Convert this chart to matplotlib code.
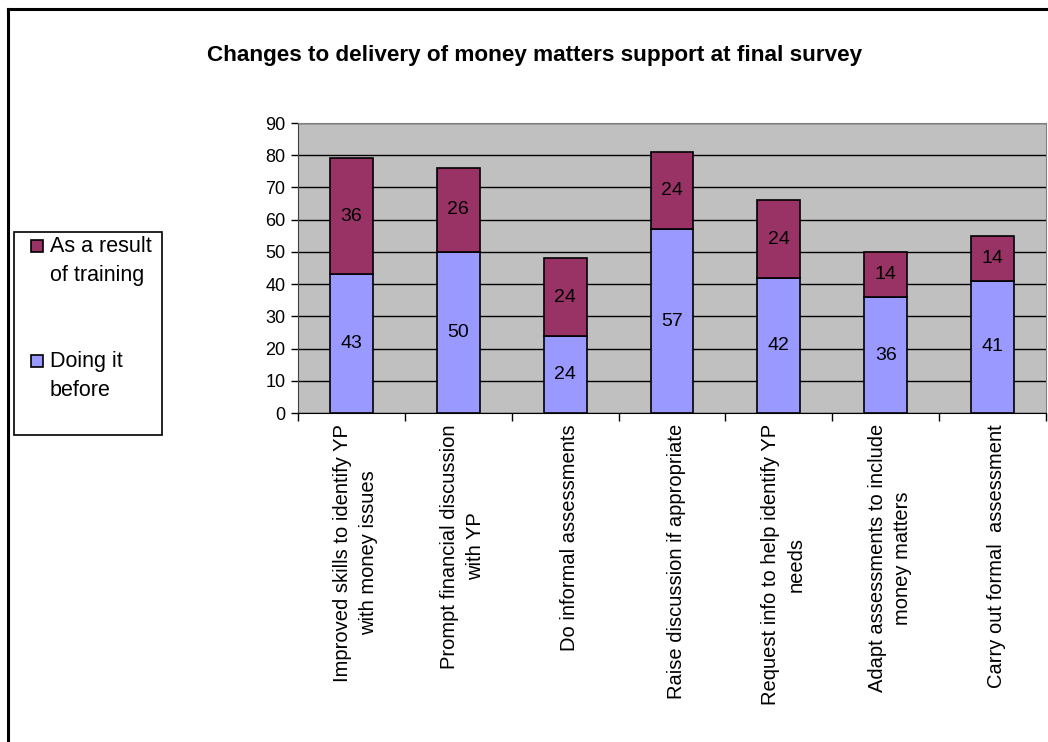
import numpy as np
import matplotlib.pyplot as plt
from matplotlib.patches import Rectangle
from matplotlib.lines import Line2D

categories = [
    "Improved skills to identify YP\nwith money issues",
    "Prompt financial discussion\nwith YP",
    "Do informal assessments",
    "Raise discussion if appropriate",
    "Request info to help identify YP\nneeds",
    "Adapt assessments to include\nmoney matters",
    "Carry out formal  assessment",
]
doing_before = [43, 50, 24, 57, 42, 36, 41]
after_training = [36, 26, 24, 24, 24, 14, 14]
y_ticks = list(range(0, 91, 10))
legend_labels = ["As a result\nof training", "Doing it\nbefore"]

BLUE = "#9999FF"
MAROON = "#993366"
PLOT_BG = "#C0C0C0"

plt.rcParams["font.family"] = ["Liberation Sans", "DejaVu Sans"]

W, H = 1048, 742
fig = plt.figure(figsize=(W / 100, H / 100), dpi=100)
ax = fig.add_axes([298 / W, 1 - 413 / H, (1046 - 298) / W, (413 - 123) / H])
ax.set_facecolor(PLOT_BG)

x = np.arange(len(categories))
bw = 0.4
ax.bar(x, doing_before, bw, color=BLUE, edgecolor="black", linewidth=1.2, zorder=3)
ax.bar(x, after_training, bw, bottom=doing_before, color=MAROON,
       edgecolor="black", linewidth=1.2, zorder=3)

for i in range(len(categories)):
    ax.text(x[i], doing_before[i] / 2, str(doing_before[i]), ha="center",
            va="center", fontsize=14, zorder=4)
    ax.text(x[i], doing_before[i] + after_training[i] / 2, str(after_training[i]),
            ha="center", va="center", fontsize=14, zorder=4)

ax.set_xlim(-0.5, len(categories) - 0.5)
ax.set_ylim(0, 90)
ax.set_yticks(y_ticks)
ax.yaxis.grid(True, color="black", linewidth=1.0, zorder=1)
ax.set_axisbelow(True)
ax.tick_params(axis="y", direction="out", length=5, width=1, labelsize=13, pad=4)

# category names sit at bar centres, tick marks sit between categories
ax.set_xticks(x + 0.04)
ax.set_xticklabels(categories, rotation=90, ha="center", va="top",
                   multialignment="center", fontsize=14.5, linespacing=1.45)
ax.tick_params(axis="x", which="major", length=0, pad=8)
ax.set_xticks(np.arange(-0.5, len(categories)), minor=True)
ax.tick_params(axis="x", which="minor", direction="out", length=6, width=1)

for side in ["top", "right"]:
    ax.spines[side].set_color("#808080")
ax.spines["left"].set_color("#404040")
ax.spines["bottom"].set_color("black")

fig.text(535 / W, 1 - 55 / H, "Changes to delivery of money matters support at final survey",
         ha="center", va="center", fontsize=16.2, fontweight="bold")

# legend: box, swatch beside the first line of each label
fig.add_artist(Rectangle((14 / W, 1 - 435 / H), (162 - 14) / W, (435 - 232) / H,
                         transform=fig.transFigure, facecolor="white",
                         edgecolor="black", linewidth=1.2))
for label, color, top in zip(legend_labels, [MAROON, BLUE], [236, 351]):
    fig.add_artist(Rectangle((31 / W, 1 - (top + 16) / H), 12 / W, 12 / H,
                             transform=fig.transFigure, facecolor=color,
                             edgecolor="black", linewidth=1.2))
    fig.text(50 / W, 1 - top / H, label, ha="left", va="top", fontsize=15.5,
             linespacing=1.5)

# outer chart frame
fig.add_artist(Line2D([8 / W, 8 / W], [0, 1 - 9 / H], transform=fig.transFigure,
                      color="black", linewidth=2.2))
fig.add_artist(Line2D([8 / W, 1], [1 - 9 / H, 1 - 9 / H], transform=fig.transFigure,
                      color="black", linewidth=2.2))

fig.savefig("out.png", dpi=100)
